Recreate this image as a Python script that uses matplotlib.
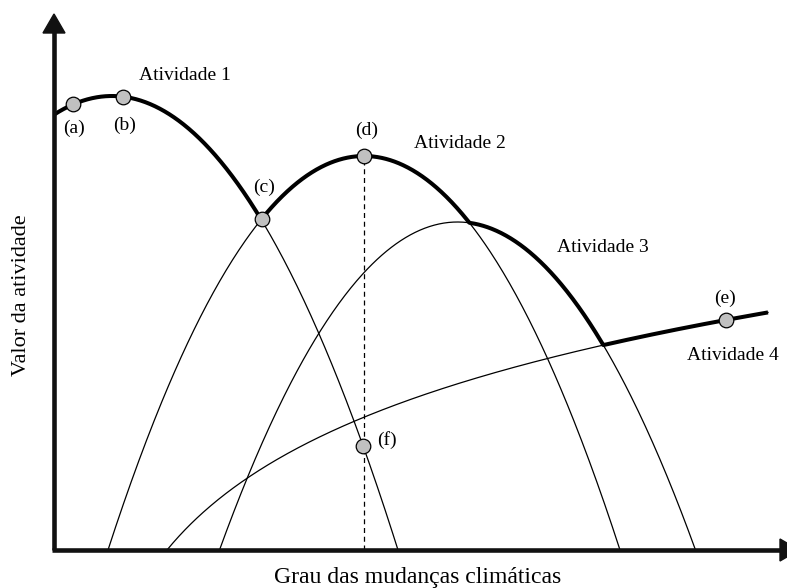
import matplotlib
matplotlib.use("Agg")
import matplotlib.pyplot as plt
import numpy as np

plt.rcParams['font.family'] = ['Liberation Serif', 'DejaVu Serif']

# Activities 1-3 are parabolas: peak position, peak value, half width at the base
peak_x = [58, 310, 403.5]
peak_y = [454, 394, 328]
half_width = [286, 256, 238]

# Activity 4: slowly saturating curve
act4_start, act4_end = 113, 714
act4_scale, act4_rate = 122, 100

# points on the envelope (x positions) and their labels
point_x = [19, 69, 208, 310, 672]
point_lab = ["(a)", "(b)", "(c)", "(d)", "(e)"]
f_x = 309  # point (f), on activity 1 below (d)

labels = {
    "Atividade 1": (131, 475), "(a)": (20, 422), "(b)": (71, 425),
    "(c)": (210, 363), "(d)": (313, 420), "Atividade 2": (406, 406),
    "Atividade 3": (549, 303), "(e)": (671, 252), "Atividade 4": (679, 195),
    "(f)": (333, 110),
}


def parab(i, x):
    return peak_y[i] * (1 - ((x - peak_x[i]) / half_width[i]) ** 2)


def act4(x):
    return act4_scale * np.log(1 + np.clip(x - act4_start, 0, None) / act4_rate)


fig = plt.figure(figsize=(7.87, 5.88), dpi=100)
ax = fig.add_axes([0, 0, 1, 1])
ax.set_xlim(-54, 733)
ax.set_ylim(-38, 550)
ax.axis('off')

thin = dict(color='black', lw=0.9)

# thin curves
for i in range(3):
    lo = max(peak_x[i] - half_width[i], 0)
    x = np.linspace(lo, peak_x[i] + half_width[i], 400)
    ax.plot(x, parab(i, x), **thin)
x4 = np.linspace(act4_start, act4_end, 400)
ax.plot(x4, act4(x4), **thin)

# thick envelope
xe = np.linspace(0, act4_end, 1500)
env = np.max([np.clip(parab(i, xe), 0, None) for i in range(3)] + [act4(xe)], axis=0)
ax.plot(xe, env, color='black', lw=2.9, solid_capstyle='butt', zorder=3)

# dashed line under (d)
ax.plot([point_x[3], point_x[3]], [0, peak_y[1]], color='black', lw=0.9,
        ls=(0, (4, 3)), zorder=2)

# axes with arrow heads
ax.plot([0, 0], [0, 520], color='#111111', lw=3.3, solid_capstyle='butt', zorder=4)
ax.plot([-2, 728], [0, 0], color='#111111', lw=3.3, solid_capstyle='butt', zorder=4)
ax.fill([-11, 11, 0], [517, 517, 536], color='#111111', zorder=4)
ax.fill([726, 726, 745], [11, -11, 0], color='#111111', zorder=4)

# points
py = np.interp(point_x, xe, env)
ax.plot(point_x, py, 'o', ms=10.5, mfc='#c0c0c0', mec='black', mew=0.9, zorder=5)
ax.plot([f_x], [parab(0, f_x)], 'o', ms=10.5, mfc='#c0c0c0', mec='black',
        mew=0.9, zorder=5)

for txt, (tx, ty) in labels.items():
    ax.text(tx, ty, txt, fontsize=14, ha='center', va='center')

ax.text(364, -28, "Grau das mudanças climáticas", fontsize=17, ha='center', va='center')
ax.text(-32, 255, "Valor da atividade", fontsize=16, ha='center', va='center',
        rotation=90)

fig.savefig("out.png", dpi=100)
